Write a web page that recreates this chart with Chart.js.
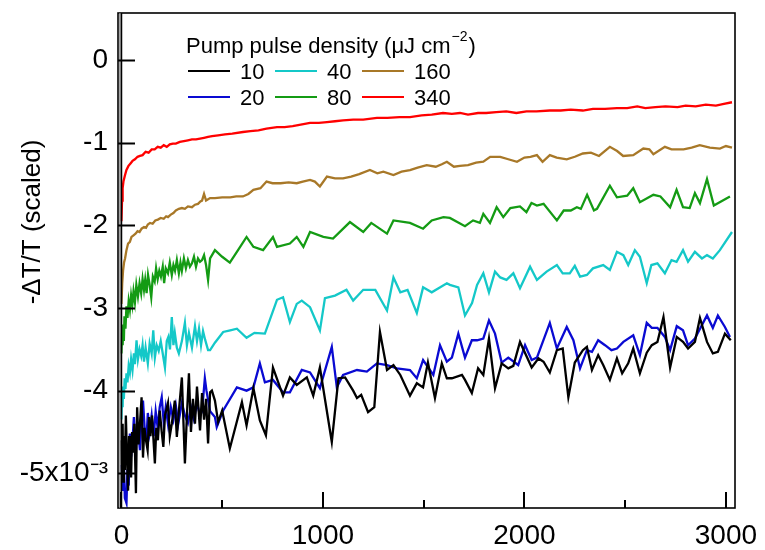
<!DOCTYPE html>
<html><head><meta charset="utf-8">
<script src="https://cdn.jsdelivr.net/npm/chart.js@4.4.1/dist/chart.umd.min.js"></script>
<style>html,body{margin:0;padding:0;background:#fff}#wrap{width:765px;height:550px}</style>
</head><body><div id="wrap"><canvas id="c" width="765" height="550"></canvas></div>
<script>
// Values are -ΔT/T in units of 1e-3; x in the instrument's time units
const seriesLabels = ['10', '20', '40', '80', '160', '340'];
const seriesColors = ['#000000', '#0a0ad2', '#14c8c8', '#149b14', '#a87828', '#ff0000'];
const legendTitle = 'Pump pulse density (\u03bcJ cm';
const legendTitleExp = '\u22122';
const yTitle = '-\u0394T/T (scaled)';
const xTickValues = [0, 500, 1000, 1500, 2000, 2500, 3000];
const xTickLabels = ['0', '', '1000', '', '2000', '', '3000'];
const yTickValues = [-5, -4, -3, -2, -1, 0];
const yTickLabels = ['-5x10\u207b\u00b3', '-4', '-3', '-2', '-1', '0'];

const d10 = [[0,-4.60],[3,-4.95],[6,-4.40],[9,-5.10],[12,-4.55],[17,-4.96],[22,-4.30],[27,-4.75],[33,-5.21],[38,-4.55],[42,-4.80],[48,-5.05],[53,-4.50],[58,-4.75],[64,-4.40],[72,-5.24],[78,-4.20],[85,-4.65],[92,-4.40],[100,-4.08],[107,-4.81],[114,-4.45],[122,-4.60],[130,-4.72],[137,-4.32],[144,-4.55],[152,-4.30],[166,-4.88],[173,-4.45],[181,-4.60],[190,-4.24],[200,-4.50],[208,-4.68],[216,-4.30],[231,-4.15],[240,-4.55],[250,-4.40],[265,-4.12],[275,-4.56],[285,-4.25],[300,-3.84],[315,-4.88],[325,-4.30],[335,-3.79],[345,-4.50],[355,-4.10],[365,-4.40],[375,-3.95],[390,-4.48],[400,-4.03],[410,-4.35],[420,-4.10],[430,-4.64],[440,-4.02],[449,-4.00],[464,-4.12],[480,-4.38],[500,-4.24],[538,-4.70],[598,-4.14],[621,-4.42],[655,-3.97],[687,-4.36],[717,-4.54],[752,-3.72],[802,-4.06],[836,-3.84],[870,-3.93],[920,-3.84],[952,-4.06],[985,-3.72],[1044,-4.62],[1077,-3.85],[1110,-3.84],[1150,-4.00],[1169,-4.09],[1190,-4.05],[1224,-4.26],[1255,-4.20],[1283,-3.29],[1318,-3.75],[1350,-3.69],[1384,-3.81],[1432,-4.06],[1466,-3.91],[1497,-3.96],[1521,-3.66],[1556,-4.09],[1590,-3.67],[1615,-3.85],[1640,-3.85],[1690,-3.81],[1705,-3.87],[1739,-4.03],[1770,-3.73],[1796,-3.81],[1824,-3.37],[1854,-3.97],[1887,-3.67],[1920,-3.73],[1945,-3.70],[1978,-3.41],[2036,-3.72],[2070,-3.61],[2095,-3.65],[2126,-3.78],[2161,-3.51],[2190,-3.49],[2218,-4.08],[2250,-3.66],[2290,-3.51],[2310,-3.47],[2335,-3.75],[2366,-3.57],[2391,-3.69],[2424,-3.87],[2459,-3.61],[2485,-3.79],[2515,-3.67],[2540,-3.49],[2573,-3.79],[2607,-3.54],[2632,-3.45],[2660,-3.41],[2690,-3.11],[2723,-3.72],[2756,-3.35],[2787,-3.41],[2812,-3.49],[2846,-3.41],[2871,-3.12],[2906,-3.41],[2935,-3.55],[2960,-3.53],[2995,-3.31],[3024,-3.39]];

const d20 = [[0,-4.90],[4,-5.05],[8,-5.20],[12,-4.85],[17,-5.30],[25,-5.36],[30,-4.95],[36,-5.15],[42,-4.52],[48,-4.80],[55,-4.60],[62,-4.32],[70,-4.65],[80,-4.40],[92,-4.72],[100,-4.30],[107,-4.12],[115,-4.45],[124,-4.60],[131,-4.27],[140,-4.50],[150,-4.30],[160,-4.55],[170,-4.25],[180,-4.45],[190,-4.20],[200,-4.08],[210,-4.39],[220,-4.20],[232,-4.42],[245,-4.20],[258,-4.35],[270,-4.18],[282,-4.40],[300,-4.15],[315,-4.30],[330,-4.39],[345,-4.20],[360,-4.35],[375,-4.15],[390,-4.30],[400,-4.25],[414,-3.85],[422,-4.00],[440,-4.25],[464,-4.32],[473,-4.44],[505,-4.24],[573,-3.96],[621,-4.00],[655,-3.96],[687,-3.67],[712,-3.90],[752,-3.87],[802,-4.02],[836,-4.02],[895,-3.75],[936,-3.78],[985,-3.97],[1044,-3.47],[1069,-3.96],[1100,-3.81],[1169,-3.75],[1218,-3.77],[1268,-3.67],[1318,-3.69],[1367,-3.73],[1432,-3.75],[1466,-3.85],[1497,-3.63],[1548,-3.81],[1581,-3.45],[1615,-3.65],[1640,-3.60],[1672,-3.31],[1705,-3.60],[1739,-3.39],[1765,-3.39],[1796,-3.37],[1824,-3.15],[1854,-3.31],[1887,-3.66],[1920,-3.60],[1969,-3.69],[2003,-3.45],[2036,-3.63],[2062,-3.60],[2126,-3.18],[2161,-3.49],[2210,-3.23],[2243,-3.39],[2276,-3.73],[2310,-3.51],[2335,-3.53],[2366,-3.39],[2400,-3.45],[2432,-3.51],[2459,-3.49],[2491,-3.41],[2540,-3.33],[2573,-3.57],[2607,-3.18],[2632,-3.24],[2660,-3.24],[2697,-3.35],[2723,-3.51],[2756,-3.22],[2787,-3.27],[2812,-3.45],[2846,-3.37],[2906,-3.09],[2935,-3.24],[2960,-3.09],[2995,-3.23],[3020,-3.35]];

const d40 = [[0,-4.35],[3,-4.05],[6,-4.20],[8,-3.95],[12,-4.10],[16,-3.85],[20,-3.98],[25,-3.79],[30,-3.90],[36,-3.70],[42,-3.78],[48,-3.62],[55,-3.75],[62,-3.55],[67,-3.68],[75,-3.39],[82,-3.62],[90,-3.50],[98,-3.58],[105,-3.45],[112,-3.65],[120,-3.48],[131,-3.67],[140,-3.43],[150,-3.55],[158,-3.27],[166,-3.60],[175,-3.45],[185,-3.52],[195,-3.40],[205,-3.55],[216,-3.72],[225,-3.40],[233,-3.35],[241,-3.50],[250,-3.11],[258,-3.45],[265,-3.30],[275,-3.48],[285,-3.55],[300,-3.40],[315,-3.18],[325,-3.45],[335,-3.30],[350,-3.48],[365,-3.22],[375,-3.40],[385,-3.25],[395,-3.45],[405,-3.28],[415,-3.38],[430,-3.51],[440,-3.51],[464,-3.42],[505,-3.29],[540,-3.27],[573,-3.25],[621,-3.36],[660,-3.30],[712,-3.31],[772,-2.90],[802,-2.87],[836,-3.17],[870,-2.95],[895,-2.91],[936,-2.99],[985,-3.27],[1010,-2.88],[1060,-2.85],[1117,-2.78],[1150,-2.91],[1200,-2.78],[1260,-2.78],[1318,-3.03],[1350,-2.63],[1384,-2.81],[1420,-2.78],[1466,-3.06],[1497,-2.75],[1540,-2.81],[1615,-2.70],[1630,-2.72],[1672,-2.75],[1705,-3.09],[1740,-2.94],[1765,-2.72],[1796,-2.58],[1824,-2.81],[1854,-2.56],[1880,-2.63],[1911,-2.66],[1945,-2.58],[1978,-2.76],[2028,-2.50],[2062,-2.66],[2110,-2.56],[2161,-2.48],[2190,-2.58],[2225,-2.58],[2250,-2.49],[2276,-2.62],[2310,-2.60],[2340,-2.52],[2391,-2.48],[2424,-2.54],[2459,-2.32],[2491,-2.36],[2515,-2.48],[2548,-2.30],[2573,-2.38],[2607,-2.70],[2630,-2.48],[2660,-2.46],[2697,-2.58],[2730,-2.42],[2755,-2.44],[2787,-2.30],[2812,-2.44],[2846,-2.32],[2881,-2.40],[2906,-2.36],[2935,-2.40],[2970,-2.30],[3030,-2.08]];

const d80 = [[0,-3.55],[3,-3.30],[6,-3.45],[9,-3.20],[12,-3.40],[15,-3.10],[20,-3.25],[25,-2.98],[30,-3.12],[36,-2.92],[42,-3.02],[48,-2.85],[54,-2.96],[60,-2.80],[67,-2.93],[74,-2.72],[82,-2.86],[90,-2.70],[98,-2.82],[105,-2.65],[112,-2.78],[118,-2.66],[125,-2.82],[132,-2.60],[140,-2.72],[148,-2.87],[156,-2.62],[165,-2.68],[172,-2.52],[180,-2.65],[188,-2.55],[196,-2.62],[205,-2.50],[212,-2.70],[220,-2.52],[231,-2.58],[240,-2.45],[250,-2.60],[258,-2.48],[266,-2.55],[275,-2.42],[285,-2.58],[293,-2.45],[300,-2.55],[310,-2.40],[320,-2.52],[330,-2.42],[340,-2.50],[350,-2.46],[360,-2.38],[370,-2.50],[380,-2.40],[390,-2.44],[400,-2.42],[410,-2.36],[420,-2.48],[430,-2.66],[440,-2.40],[464,-2.30],[500,-2.38],[538,-2.45],[573,-2.32],[621,-2.14],[655,-2.26],[703,-2.30],[752,-2.14],[772,-2.26],[836,-2.22],[870,-2.14],[903,-2.26],[936,-2.08],[1002,-2.14],[1050,-2.16],[1134,-1.96],[1200,-2.08],[1240,-1.97],[1318,-2.10],[1350,-1.94],[1432,-1.97],[1497,-2.04],[1540,-1.94],[1598,-1.90],[1630,-1.91],[1705,-2.01],[1745,-1.94],[1779,-1.97],[1796,-1.86],[1829,-1.97],[1862,-1.78],[1895,-1.90],[1930,-1.79],[1978,-1.77],[2010,-1.84],[2035,-1.73],[2062,-1.76],[2095,-1.74],[2161,-1.94],[2195,-1.82],[2230,-1.82],[2260,-1.78],[2280,-1.80],[2311,-1.63],[2345,-1.82],[2360,-1.80],[2424,-1.52],[2459,-1.66],[2510,-1.64],[2540,-1.55],[2573,-1.72],[2640,-1.63],[2675,-1.65],[2723,-1.78],[2755,-1.57],[2787,-1.78],[2820,-1.79],[2846,-1.61],[2871,-1.73],[2906,-1.44],[2940,-1.76],[3020,-1.65]];

const d160 = [[0,-2.95],[4,-2.70],[8,-2.55],[13,-2.45],[18,-2.40],[25,-2.30],[33,-2.22],[42,-2.20],[50,-2.14],[60,-2.12],[70,-2.10],[80,-2.07],[90,-2.08],[100,-2.04],[112,-2.02],[122,-2.03],[131,-1.99],[142,-1.97],[155,-1.98],[168,-1.94],[181,-1.93],[195,-1.91],[210,-1.92],[222,-1.89],[231,-1.90],[245,-1.87],[258,-1.85],[270,-1.82],[285,-1.80],[300,-1.79],[315,-1.80],[330,-1.77],[350,-1.78],[365,-1.75],[380,-1.74],[392,-1.71],[400,-1.70],[410,-1.62],[420,-1.70],[440,-1.67],[464,-1.67],[500,-1.66],[540,-1.66],[570,-1.65],[603,-1.65],[630,-1.62],[655,-1.57],[690,-1.55],[720,-1.47],[750,-1.49],[790,-1.49],[830,-1.48],[870,-1.49],[900,-1.47],[936,-1.45],[960,-1.47],[985,-1.53],[1020,-1.41],[1060,-1.43],[1100,-1.43],[1140,-1.41],[1180,-1.38],[1233,-1.33],[1270,-1.37],[1300,-1.35],[1350,-1.39],[1390,-1.35],[1432,-1.33],[1470,-1.30],[1515,-1.27],[1560,-1.29],[1590,-1.26],[1615,-1.23],[1650,-1.29],[1680,-1.28],[1720,-1.27],[1760,-1.24],[1796,-1.23],[1830,-1.17],[1880,-1.17],[1920,-1.20],[1963,-1.23],[2000,-1.18],[2030,-1.17],[2062,-1.15],[2090,-1.23],[2126,-1.15],[2160,-1.18],[2210,-1.20],[2250,-1.17],[2290,-1.13],[2330,-1.12],[2370,-1.16],[2424,-1.05],[2460,-1.10],[2490,-1.16],[2540,-1.15],[2590,-1.07],[2620,-1.08],[2640,-1.14],[2697,-1.05],[2730,-1.08],[2790,-1.08],[2830,-1.06],[2870,-1.03],[2920,-1.06],[2970,-1.07],[3000,-1.04],[3030,-1.06]];

const d340 = [[0,-1.95],[3,-1.70],[6,-1.55],[10,-1.47],[17,-1.40],[25,-1.33],[35,-1.28],[45,-1.25],[55,-1.22],[67,-1.20],[80,-1.17],[92,-1.16],[105,-1.15],[120,-1.11],[135,-1.12],[150,-1.08],[165,-1.08],[180,-1.05],[195,-1.06],[210,-1.03],[225,-1.05],[240,-1.02],[255,-1.01],[270,-1.01],[290,-0.99],[310,-0.98],[330,-0.97],[350,-0.96],[370,-0.96],[390,-0.95],[410,-0.94],[430,-0.93],[450,-0.92],[480,-0.91],[514,-0.90],[550,-0.89],[603,-0.87],[640,-0.86],[680,-0.85],[720,-0.83],[772,-0.81],[810,-0.81],[850,-0.80],[890,-0.78],[936,-0.76],[980,-0.76],[1020,-0.75],[1060,-0.74],[1100,-0.73],[1150,-0.72],[1200,-0.72],[1268,-0.70],[1320,-0.70],[1380,-0.69],[1432,-0.69],[1490,-0.67],[1540,-0.66],[1596,-0.64],[1640,-0.65],[1680,-0.64],[1720,-0.66],[1770,-0.64],[1810,-0.64],[1860,-0.63],[1910,-0.62],[1960,-0.64],[2010,-0.62],[2060,-0.62],[2126,-0.61],[2180,-0.61],[2230,-0.60],[2290,-0.61],[2340,-0.59],[2400,-0.59],[2459,-0.58],[2510,-0.58],[2560,-0.56],[2600,-0.58],[2650,-0.57],[2700,-0.56],[2760,-0.57],[2800,-0.55],[2850,-0.56],[2900,-0.54],[2950,-0.55],[2990,-0.53],[3030,-0.51]];

const seriesData = [d10, d20, d40, d80, d160, d340];
const FONT = '"Liberation Sans", Arial, sans-serif';

const decor = {
  id: 'decor',
  afterDraw(chart) {
    const ctx = chart.ctx, a = chart.chartArea, xs = chart.scales.x, ys = chart.scales.y;
    ctx.save();
    ctx.strokeStyle = '#000';
    ctx.lineWidth = 1.6;
    ctx.strokeRect(a.left, a.top, a.right - a.left, a.bottom - a.top);
    ctx.strokeStyle = '#888';
    ctx.lineWidth = 1.5;
    ctx.beginPath(); ctx.moveTo(a.left + 2, a.top); ctx.lineTo(a.left + 2, a.bottom); ctx.stroke();
    ctx.strokeStyle = '#000';
    ctx.beginPath(); ctx.moveTo(a.left + 3.5, a.top); ctx.lineTo(a.left + 3.5, a.bottom); ctx.stroke();
    ctx.lineWidth = 2;
    yTickValues.forEach(v => {
      const py = Math.round(ys.getPixelForValue(v)) + 0.5;
      ctx.beginPath(); ctx.moveTo(a.left, py); ctx.lineTo(a.left + 17, py); ctx.stroke();
    });
    xTickValues.forEach((v, i) => {
      const px = Math.round(xs.getPixelForValue(v));
      const len = xTickLabels[i] ? 16 : 8;
      ctx.beginPath(); ctx.moveTo(px, a.bottom); ctx.lineTo(px, a.bottom - len); ctx.stroke();
    });
    // y axis title
    ctx.save();
    ctx.translate(33, 222);
    ctx.rotate(-Math.PI / 2);
    ctx.fillStyle = '#000';
    ctx.font = '26px ' + FONT;
    ctx.textAlign = 'center';
    ctx.textBaseline = 'middle';
    ctx.fillText(yTitle, 0, 0);
    ctx.restore();
    // legend
    ctx.fillStyle = '#000';
    ctx.font = '22px ' + FONT;
    ctx.textAlign = 'left';
    ctx.textBaseline = 'alphabetic';
    ctx.fillText(legendTitle, 186, 53);
    const w = ctx.measureText(legendTitle).width;
    ctx.font = '14px ' + FONT;
    ctx.fillText(legendTitleExp, 186 + w + 1, 41);
    const w2 = ctx.measureText(legendTitleExp).width;
    ctx.font = '22px ' + FONT;
    ctx.fillText(')', 186 + w + w2 + 2, 53);
    const colX = [188, 275, 362];
    const rowY = [71, 97];
    seriesLabels.forEach((lab, i) => {
      const cx = colX[Math.floor(i / 2)], cy = rowY[i % 2];
      ctx.strokeStyle = seriesColors[i];
      ctx.lineWidth = 2.2;
      ctx.beginPath(); ctx.moveTo(cx, cy); ctx.lineTo(cx + 42, cy); ctx.stroke();
      ctx.fillStyle = '#000';
      ctx.fillText(lab, cx + 52, cy + 8);
    });
    ctx.restore();
  }
};

new Chart(document.getElementById('c'), {
  type: 'line',
  data: {
    datasets: seriesData.map((d, i) => ({
      label: seriesLabels[i],
      data: d.map(p => ({ x: p[0], y: p[1] })),
      borderColor: seriesColors[i],
      backgroundColor: seriesColors[i],
      borderWidth: 2.3,
      pointRadius: 0,
      tension: 0,
      fill: false
    }))
  },
  options: {
    responsive: false,
    animation: false,
    devicePixelRatio: 1,
    layout: { padding: { top: 13, right: 30, left: 0, bottom: 0 } },
    plugins: { legend: { display: false }, tooltip: { enabled: false } },
    scales: {
      x: {
        type: 'linear', min: -17, max: 3045,
        afterBuildTicks: s => { s.ticks = xTickValues.map(v => ({ value: v })); },
        afterFit: s => { s.height = 42; s.paddingLeft = 0; s.paddingRight = 0; },
        grid: { display: false, drawTicks: false },
        border: { display: false },
        ticks: {
          autoSkip: false, maxRotation: 0, padding: 11, color: '#000',
          font: { family: FONT, size: 28 },
          callback: v => xTickLabels[xTickValues.indexOf(v)]
        }
      },
      y: {
        type: 'linear', min: -5.42, max: 0.57,
        afterBuildTicks: s => { s.ticks = yTickValues.map(v => ({ value: v })); },
        afterFit: s => { s.width = 118; s.paddingTop = 0; s.paddingBottom = 0; },
        grid: { display: false, drawTicks: false },
        border: { display: false },
        ticks: {
          autoSkip: false, padding: 10, color: '#000',
          font: { family: FONT, size: 28 },
          callback: v => yTickLabels[yTickValues.indexOf(v)]
        }
      }
    }
  },
  plugins: [decor]
});
</script>
</body></html>
